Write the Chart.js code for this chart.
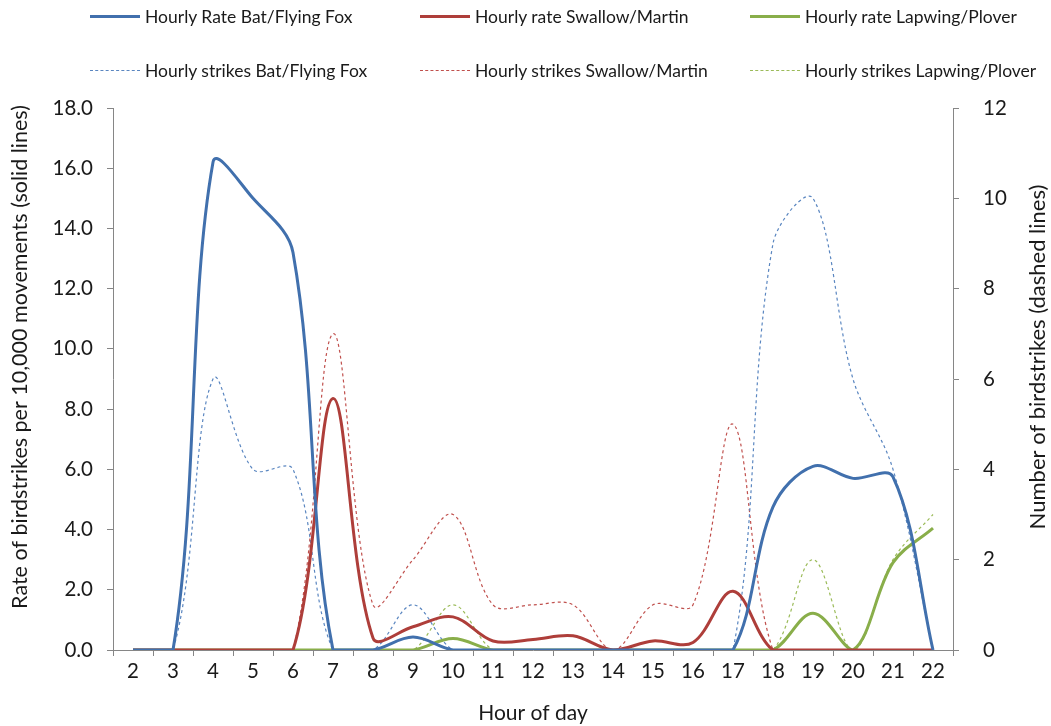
<!DOCTYPE html>
<html>
<head>
<meta charset="utf-8">
<script src="https://cdn.jsdelivr.net/npm/chart.js@4.4.1/dist/chart.umd.min.js"></script>
<style>
    body { margin: 0; background: #fff; }
    #wrap { position: relative; width: 1051px; height: 726px; }
    #legend { position: absolute; left: 0; top: 0; width: 1051px; height: 100px; font-family: Lato, sans-serif; font-size: 17.5px; color: #1a1a1a; }
    .item { position: absolute; height: 20px; line-height: 20px; white-space: nowrap; }
    .item .mark { position: absolute; left: 0; top: 9px; width: 50px; }
    .item span { position: absolute; left: 55px; top: 0; }
</style>
</head>
<body>
<div id="wrap">
    <canvas id="chart1" width="1051" height="726"></canvas>
    <div id="legend"></div>
</div>
<script>
var horas = ['2', '3', '4', '5', '6', '7', '8', '9', '10', '11', '12', '13', '14', '15', '16', '17', '18', '19', '20', '21', '22'];

// taxa por 10.000 movimentos (eixo esquerdo)
var taxaMorcego = [0, 0, 16.2, 15.0, 13.2, 0, 0, 0.43, 0, 0, 0, 0, 0, 0, 0, 0, 4.75, 6.1, 5.7, 5.75, 0];
var taxaAndorinha = [0, 0, 0, 0, 0, 8.35, 0.4, 0.77, 1.1, 0.3, 0.35, 0.47, 0, 0.3, 0.25, 1.95, 0, 0, 0, 0, 0];
var taxaQuero = [0, 0, 0, 0, 0, 0, 0, 0, 0.38, 0, 0, 0, 0, 0, 0, 0, 0, 1.22, 0, 2.9, 4.05];

// numero de colisoes (eixo direito)
var colisoesMorcego = [0, 0, 6, 4, 4, 0, 0, 1, 0, 0, 0, 0, 0, 0, 0, 0, 9, 10, 6, 4, 0];
var colisoesAndorinha = [0, 0, 0, 0, 0, 7, 1, 2, 3, 1, 1, 1, 0, 1, 1, 5, 0, 0, 0, 0, 0];
var colisoesQuero = [0, 0, 0, 0, 0, 0, 0, 0, 1, 0, 0, 0, 0, 0, 0, 0, 0, 2, 0, 2, 3];

var ticksEsq = ['0.0', '2.0', '4.0', '6.0', '8.0', '10.0', '12.0', '14.0', '16.0', '18.0'];

var tituloEsq = 'Rate of birdstrikes per 10,000 movements (solid lines)';
var tituloDir = 'Number of birdstrikes (dashed lines)';

var fonte = 'Lato, sans-serif';
var cinza = '#868686';
var texto = '#1a1a1a';

function serieSolida(label, data, cor) {
    return { label: label, data: data, borderColor: cor, backgroundColor: cor, borderWidth: 3,
        pointRadius: 0, tension: 0.35, yAxisID: 'y', fill: false };
}
function serieTracejada(label, data, cor) {
    return { label: label, data: data, borderColor: cor, backgroundColor: cor, borderWidth: 1.2,
        borderDash: [3, 3], pointRadius: 0, tension: 0.35, yAxisID: 'y1', fill: false };
}

var datasets = [
    serieSolida('Hourly Rate Bat/Flying Fox', taxaMorcego, '#4170AD'),
    serieSolida('Hourly rate Swallow/Martin', taxaAndorinha, '#AE3E3A'),
    serieSolida('Hourly rate Lapwing/Plover', taxaQuero, '#89AE4A'),
    serieTracejada('Hourly strikes Bat/Flying Fox', colisoesMorcego, '#5A86C0'),
    serieTracejada('Hourly strikes Swallow/Martin', colisoesAndorinha, '#C0504D'),
    serieTracejada('Hourly strikes Lapwing/Plover', colisoesQuero, '#9BBB59')
];

// titulos verticais desenhados a mao (no Excel ficam um pouco acima do centro)
var titulosY = {
    id: 'titulosY',
    afterDraw: function (chart) {
        var c = chart.ctx;
        var meio = chart.chartArea.top + (chart.chartArea.bottom - chart.chartArea.top) / 2 - 22;
        c.save();
        c.fillStyle = texto;
        c.textAlign = 'center';
        c.textBaseline = 'middle';
        c.font = '21.5px ' + fonte;
        c.translate(20, meio);
        c.rotate(-Math.PI / 2);
        c.fillText(tituloEsq, 0, 0);
        c.restore();
        c.save();
        c.fillStyle = texto;
        c.textAlign = 'center';
        c.textBaseline = 'middle';
        c.font = '22px ' + fonte;
        c.translate(1038, meio);
        c.rotate(-Math.PI / 2);
        c.fillText(tituloDir, 0, 0);
        c.restore();
    }
};

var ctx1 = document.getElementById('chart1').getContext('2d');
var chart1 = new Chart(ctx1, {
    type: 'line',
    data: { labels: horas, datasets: datasets },
    plugins: [titulosY],
    options: {
        responsive: false,
        animation: false,
        layout: { padding: { top: 108, left: 0, right: 0, bottom: 0 } },
        plugins: { legend: { display: false }, tooltip: { enabled: false } },
        scales: {
            x: {
                offset: true,
                grid: { offset: true, drawOnChartArea: false, drawTicks: true, tickLength: 6, color: cinza },
                border: { display: true, color: cinza, width: 1 },
                ticks: { color: texto, font: { family: fonte, size: 20.5 }, padding: 3, maxRotation: 0, autoSkip: false },
                title: { display: true, text: 'Hour of day', color: texto, font: { family: fonte, size: 21 }, padding: { top: 2, bottom: 0 } },
                afterFit: function (s) { s.height = 76; }
            },
            y: {
                position: 'left',
                min: 0, max: 18,
                grid: { drawOnChartArea: false, drawTicks: true, tickLength: 6, color: cinza },
                border: { display: true, color: cinza, width: 1 },
                ticks: {
                    stepSize: 2, color: texto, font: { family: fonte, size: 20.5 }, padding: 14,
                    callback: function (v) { return ticksEsq[Math.round(v / 2)]; }
                },
                afterFit: function (s) { s.width = 113; }
            },
            y1: {
                position: 'right',
                min: 0, max: 12,
                grid: { drawOnChartArea: false, drawTicks: true, tickLength: 6, color: cinza },
                border: { display: true, color: cinza, width: 1 },
                ticks: { stepSize: 2, color: texto, font: { family: fonte, size: 20.5 }, padding: 24 },
                afterFit: function (s) { s.width = 98; }
            }
        }
    }
});

// legenda em HTML, montada a partir dos datasets
var colunas = [90, 420, 750];
var linhas = [7, 61];
var legenda = document.getElementById('legend');
chart1.data.datasets.forEach(function (ds, i) {
    var item = document.createElement('div');
    item.className = 'item';
    item.style.left = colunas[i % 3] + 'px';
    item.style.top = linhas[Math.floor(i / 3)] + 'px';
    var mark = document.createElement('div');
    mark.className = 'mark';
    if (ds.borderDash) {
        mark.style.borderTop = '1px dashed ' + ds.borderColor;
    } else {
        mark.style.borderTop = '3px solid ' + ds.borderColor;
        mark.style.top = '8px';
    }
    var txt = document.createElement('span');
    txt.textContent = ds.label;
    item.appendChild(mark);
    item.appendChild(txt);
    legenda.appendChild(item);
});
</script>
</body>
</html>
